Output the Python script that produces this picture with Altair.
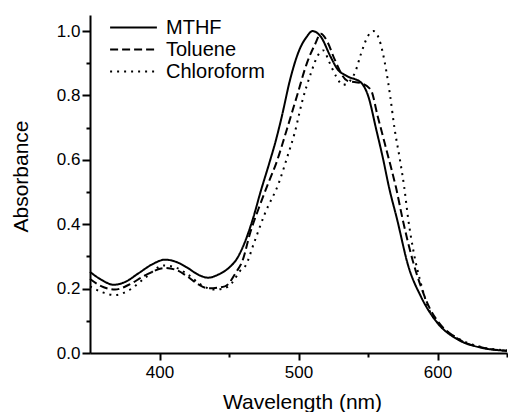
import altair as alt
import pandas as pd

series_names = ["MTHF", "Toluene", "Chloroform"]

mthf_wl = [350, 358, 367, 375, 385, 395, 404, 412, 420, 428, 435, 442, 450, 456, 461,
           467, 473, 479, 484, 488, 494, 500, 506, 510, 516, 523, 528, 535, 545, 550,
           556, 561, 565, 571, 579, 588, 600, 615, 632, 650]
mthf_abs = [0.252, 0.228, 0.212, 0.220, 0.248, 0.276, 0.290, 0.283, 0.265, 0.243, 0.234,
            0.243, 0.265, 0.295, 0.340, 0.414, 0.505, 0.590, 0.665, 0.735, 0.850, 0.935,
            0.983, 1.000, 0.983, 0.921, 0.882, 0.860, 0.840, 0.800, 0.693, 0.600, 0.517,
            0.414, 0.270, 0.176, 0.093, 0.041, 0.016, 0.007]

tol_wl = [350, 358, 368, 378, 390, 404, 412, 420, 428, 435, 447, 455, 460, 465, 471,
          478, 484, 492, 499, 506, 512, 516, 521, 526, 535, 545, 552, 557, 562, 567,
          570, 575, 582, 588, 595, 600, 615, 632, 650]
tol_abs = [0.230, 0.208, 0.197, 0.212, 0.242, 0.264, 0.258, 0.238, 0.213, 0.201, 0.207,
           0.250, 0.290, 0.370, 0.445, 0.525, 0.590, 0.700, 0.800, 0.900, 0.960, 0.992,
           0.965, 0.912, 0.846, 0.838, 0.818, 0.735, 0.652, 0.569, 0.517, 0.414, 0.290,
           0.207, 0.134, 0.100, 0.043, 0.017, 0.007]

chl_wl = [350, 358, 368, 378, 390, 403, 412, 420, 430, 439, 446, 452, 458, 462, 468,
          476, 486, 492, 497, 503, 509, 514, 518, 522, 527, 532, 537, 541, 545, 550,
          554, 558, 563, 566, 569, 573, 576, 579, 583, 588, 594, 600, 615, 632, 650]
chl_abs = [0.207, 0.190, 0.180, 0.195, 0.235, 0.272, 0.265, 0.245, 0.212, 0.197, 0.200,
           0.217, 0.255, 0.272, 0.342, 0.435, 0.530, 0.610, 0.680, 0.787, 0.870, 0.925,
           0.940, 0.905, 0.860, 0.833, 0.845, 0.875, 0.930, 0.985, 1.000, 0.975, 0.880,
           0.797, 0.700, 0.600, 0.517, 0.414, 0.310, 0.217, 0.134, 0.095, 0.045, 0.018,
           0.008]

x_ticks = [400, 450, 500, 550, 600, 650]
y_ticks = [0.0, 0.1, 0.2, 0.3, 0.4, 0.5, 0.6, 0.7, 0.8, 0.9, 1.0]

rows = []
for name, wls, vals in zip(series_names, [mthf_wl, tol_wl, chl_wl], [mthf_abs, tol_abs, chl_abs]):
    for w, a in zip(wls, vals):
        rows.append({"series": name, "wl": w, "A": a})
df = pd.DataFrame(rows)

FONT = "Liberation Sans"

x_axis = alt.Axis(
    title="Wavelength (nm)",
    values=x_ticks,
    labelExpr="datum.value % 100 == 0 ? datum.label : ''",
    tickSize={"condition": {"test": "datum.value % 100 == 0", "value": 7}, "value": 4},
    labelPadding=4,
    titleX=212,
    titleY=55,
    titleBaseline="alphabetic",
    titleAlign="center",
)

y_axis = alt.Axis(
    title="Absorbance",
    values=y_ticks,
    format=".1f",
    labelExpr="round(datum.value * 10) % 2 == 0 ? datum.label : ''",
    tickSize={"condition": {"test": "round(datum.value * 10) % 2 == 0", "value": 8}, "value": 4},
    labelPadding=2,
    titleX=-63,
    titleY=161,
    titleAngle=270,
    titleBaseline="alphabetic",
    titleAlign="center",
)

# wide horizontal stroke drawn as a custom path so the legend rows stay compact
legend = alt.Legend(
    title=None,
    orient="none",
    legendX=33.5,
    legendY=2.5,
    symbolType="M-3.9,0L3.9,0",
    symbolSize=144,
    symbolStrokeWidth=2,
    symbolStrokeColor="black",
    symbolFillColor="transparent",
    labelFont=FONT,
    labelFontSize=20,
    labelColor="black",
    labelOffset=22.5,
    rowPadding=2,
    padding=0,
)

chart = (
    alt.Chart(df)
    .mark_line(color="black", strokeWidth=2, interpolate="monotone")
    .encode(
        x=alt.X("wl:Q", scale=alt.Scale(domain=[350, 650], nice=False, zero=False), axis=x_axis),
        y=alt.Y("A:Q", scale=alt.Scale(domain=[0, 1.05], nice=False, zero=True), axis=y_axis),
        strokeDash=alt.StrokeDash(
            "series:N",
            scale=alt.Scale(domain=series_names, range=[[1, 0], [8, 4], [2, 5]]),
            legend=legend,
        ),
    )
    .properties(
        width=417,
        height=338,
        autosize=alt.AutoSizeParams(type="none"),
        padding={"left": 90, "top": 15, "right": 1, "bottom": 59},
        background="white",
    )
    .configure_view(stroke=None)
    .configure_axis(
        grid=False,
        domainColor="black",
        domainWidth=2,
        tickColor="black",
        tickWidth=2,
        labelColor="black",
        labelFont=FONT,
        labelFontSize=17,
        titleColor="black",
        titleFont=FONT,
        titleFontSize=21,
        titleFontWeight="normal",
    )
)

chart.save("out.html", embed_options={"renderer": "svg", "actions": False})
